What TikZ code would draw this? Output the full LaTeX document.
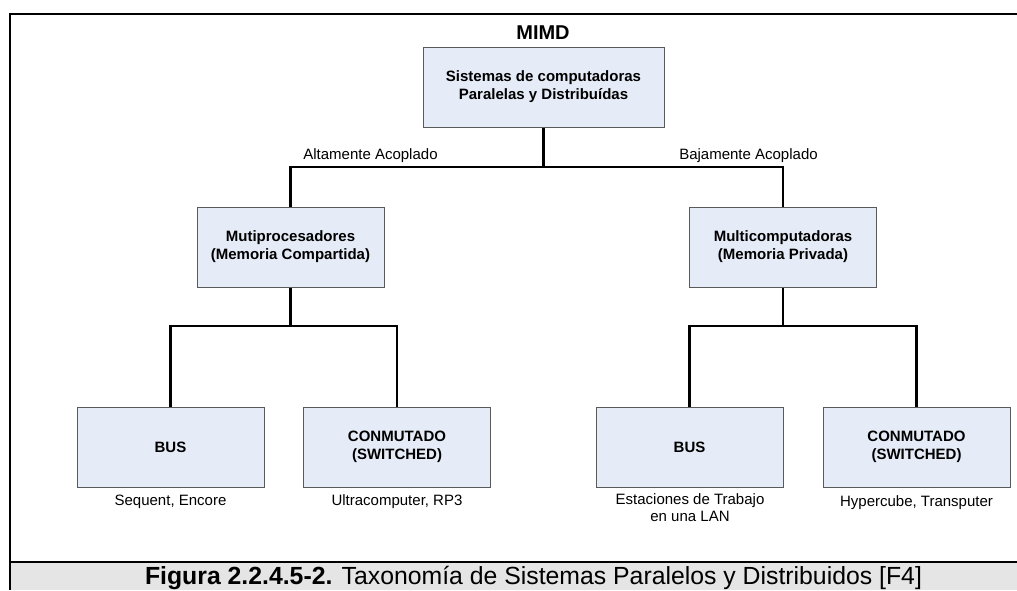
\documentclass[tikz,border=0pt]{standalone}
\usepackage{fontspec}
\setmainfont{Liberation Sans}
\definecolor{boxfill}{RGB}{230,236,247}
\definecolor{boxline}{RGB}{90,90,90}
\definecolor{capfill}{RGB}{229,229,229}
\tikzset{
  blk/.style={draw=boxline, line width=1pt, fill=boxfill, align=center,
    font=\bfseries\fontsize{15}{18}\selectfont, inner sep=0pt},
  topblk/.style={blk, minimum width=241pt, minimum height=80pt},
  midblk/.style={blk, minimum width=187pt, minimum height=80pt},
  conn/.style={line width=2.2pt, black},
  lbl/.style={font=\fontsize{15}{17}\selectfont, anchor=base, inner sep=0pt, align=center},
  frame/.style={line width=2.7pt, black}
}
\begin{document}
\begin{tikzpicture}[x=1pt,y=-1pt]
\useasboundingbox (0,0) rectangle (1017,590);
% caption band and frame
\fill[capfill] (10,562) rectangle (1017,590);
\draw[frame] (1017,14) -- (10,14) -- (10,590);
\draw[frame] (10,562) -- (1017,562);
% title
\node[font=\bfseries\fontsize{20}{24}\selectfont, anchor=base, inner sep=0pt] (mimd) at (543,39.5) {MIMD};
% boxes
\node[topblk] (top) at (543.5,87) {Sistemas de computadoras\\Paralelas y Distribuídas};
\node[midblk] (ml) at (290.5,247) {Mutiprocesadores\\(Memoria Compartida)};
\node[midblk] (mr) at (783,247) {Multicomputadoras\\(Memoria Privada)};
\node[midblk] (b1) at (170.5,447) {BUS};
\node[midblk] (s1) at (397,447) {CONMUTADO\\(SWITCHED)};
\node[midblk] (b2) at (689.5,447) {BUS};
\node[midblk] (s2) at (916.5,447) {CONMUTADO\\(SWITCHED)};
% junctions
\coordinate (j1) at (543.5,167);
\coordinate (j2) at (290.5,326);
\coordinate (j3) at (783,326);
% connectors
\draw[conn] (top.south) -- (j1);
\draw[conn] (ml.north) |- (j1) -| (mr.north);
\draw[conn] (ml.south) -- (j2);
\draw[conn] (b1.north) |- (j2) -| (s1.north);
\draw[conn] (mr.south) -- (j3);
\draw[conn] (b2.north) |- (j3) -| (s2.north);
% labels
\node[lbl] (la) at (370.5,159) {Altamente Acoplado};
\node[lbl] (lb) at (748.5,159) {Bajamente Acoplado};
\node[lbl] (l1) at (170.5,505) {Sequent, Encore};
\node[lbl] (l2) at (397,505) {Ultracomputer, RP3};
\node[lbl] (l3) at (690,504) {Estaciones de Trabajo};
\node[lbl] (l3b) at (690,521) {en una LAN};
\node[lbl] (l4) at (916.5,506) {Hypercube, Transputer};
% caption
\node[anchor=base, inner sep=0pt, font=\fontsize{24.8}{28}\selectfont] (cap) at (533.5,584)
  {\textbf{Figura 2.2.4.5-2.} Taxonomía de Sistemas Paralelos y Distribuidos [F4]};
\end{tikzpicture}
\end{document}
